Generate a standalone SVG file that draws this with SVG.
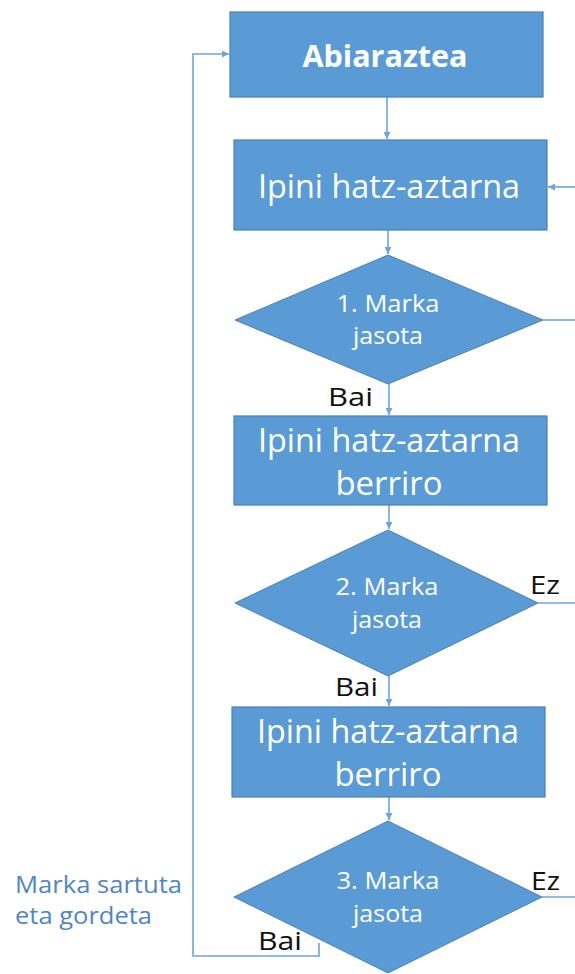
<svg xmlns="http://www.w3.org/2000/svg" width="575" height="974" viewBox="0 0 575 974">
  <style>
    .box { fill: #5b9bd5; stroke: #4a7fb5; stroke-width: 1.2; }
    .dec { fill: #5b9bd5; stroke: #4a7fb5; stroke-width: 1; }
    .t { fill: #ffffff; font-family: "Open Sans", "Noto Sans", "DejaVu Sans", sans-serif; text-anchor: middle; }
    .big { font-size: 32px; }
    .bold { font-size: 31px; font-weight: bold; }
    .small { font-size: 23px; }
    .lbl { fill: #111111; font-family: "Open Sans", "Noto Sans", "DejaVu Sans", sans-serif; font-size: 25px; }
    .note { fill: #4f86c2; font-family: "Open Sans", "Noto Sans", "DejaVu Sans", sans-serif; font-size: 24px; }
    .conn { fill: none; stroke: #6ea4da; stroke-width: 1.6; }
  </style>
  <defs>
    <marker id="arrow" viewBox="0 0 10 10" refX="10" refY="5" markerWidth="7" markerHeight="7" orient="auto" markerUnits="userSpaceOnUse">
      <path d="M0,0 L10,5 L0,10 z" fill="#6ea4da"/>
    </marker>
  </defs>

  <!-- connectors -->
  <g id="connectors">
    <path class="conn" d="M387,97 V139" marker-end="url(#arrow)"/>
    <path class="conn" d="M388,230 V254" marker-end="url(#arrow)"/>
    <path class="conn" d="M389,384 V415" marker-end="url(#arrow)"/>
    <path class="conn" d="M389,505 V529" marker-end="url(#arrow)"/>
    <path class="conn" d="M389,676 V706" marker-end="url(#arrow)"/>
    <path class="conn" d="M389,797 V820" marker-end="url(#arrow)"/>
    <!-- retry returns from the right edge -->
    <path class="conn" d="M575,187 H548" marker-end="url(#arrow)"/>
    <path class="conn" d="M543,320 H575"/>
    <path class="conn" d="M538,603 H575"/>
    <path class="conn" d="M542,897 H575"/>
    <!-- loop back to start -->
    <path class="conn" d="M319,943 V956 H193 V54 H229" marker-end="url(#arrow)"/>
  </g>

  <g id="start">
    <rect class="box" x="230" y="12" width="313" height="85"/>
    <text class="t bold" x="385" y="67" textLength="165" lengthAdjust="spacingAndGlyphs">Abiaraztea</text>
  </g>

  <g id="place1">
    <rect class="box" x="234" y="140" width="313" height="90"/>
    <text class="t big" x="389" y="198" textLength="262" lengthAdjust="spacingAndGlyphs">Ipini hatz-aztarna</text>
  </g>

  <g id="check1">
    <polygon class="dec" points="235,320 388,255 543,320 388,384"/>
    <text class="t small" x="388" y="312" textLength="103" lengthAdjust="spacingAndGlyphs">1. Marka</text>
    <text class="t small" x="388" y="344" textLength="70" lengthAdjust="spacingAndGlyphs">jasota</text>
  </g>

  <g id="place2">
    <rect class="box" x="234" y="416" width="313" height="89"/>
    <text class="t big" x="389" y="452" textLength="262" lengthAdjust="spacingAndGlyphs">Ipini hatz-aztarna</text>
    <text class="t big" x="389" y="495" textLength="107" lengthAdjust="spacingAndGlyphs">berriro</text>
  </g>

  <g id="check2">
    <polygon class="dec" points="235,603 388,530 538,603 388,676"/>
    <text class="t small" x="387" y="595" textLength="103" lengthAdjust="spacingAndGlyphs">2. Marka</text>
    <text class="t small" x="387" y="628" textLength="70" lengthAdjust="spacingAndGlyphs">jasota</text>
  </g>

  <g id="place3">
    <rect class="box" x="232" y="707" width="313" height="90"/>
    <text class="t big" x="388" y="743" textLength="262" lengthAdjust="spacingAndGlyphs">Ipini hatz-aztarna</text>
    <text class="t big" x="388" y="786" textLength="107" lengthAdjust="spacingAndGlyphs">berriro</text>
  </g>

  <g id="check3">
    <polygon class="dec" points="234,897 388,821 542,897 388,973"/>
    <text class="t small" x="388" y="889" textLength="103" lengthAdjust="spacingAndGlyphs">3. Marka</text>
    <text class="t small" x="388" y="922" textLength="70" lengthAdjust="spacingAndGlyphs">jasota</text>
  </g>

  <g id="labels">
    <text class="lbl" x="328" y="406" textLength="45" lengthAdjust="spacingAndGlyphs">Bai</text>
    <text class="lbl" x="335" y="696" textLength="43" lengthAdjust="spacingAndGlyphs">Bai</text>
    <text class="lbl" x="258" y="950" textLength="44" lengthAdjust="spacingAndGlyphs">Bai</text>
    <text class="lbl" x="530" y="594" textLength="30" lengthAdjust="spacingAndGlyphs">Ez</text>
    <text class="lbl" x="531" y="890" textLength="29" lengthAdjust="spacingAndGlyphs">Ez</text>
  </g>

  <g id="note">
    <text class="note" x="15" y="893" textLength="167" lengthAdjust="spacingAndGlyphs">Marka sartuta</text>
    <text class="note" x="15" y="924" textLength="137" lengthAdjust="spacingAndGlyphs">eta gordeta</text>
  </g>
</svg>
